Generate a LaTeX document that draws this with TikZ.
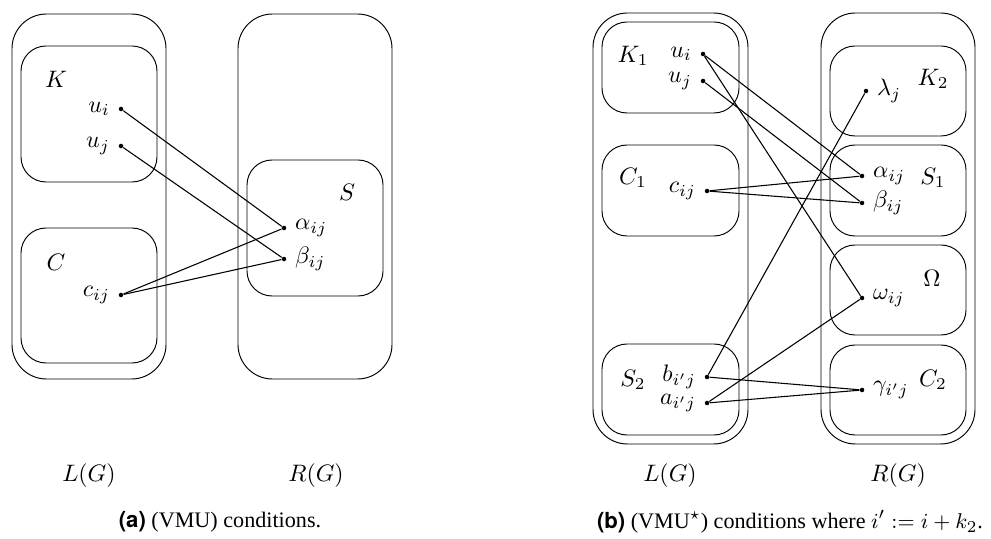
\documentclass[tikz,border=0pt]{standalone}
\usepackage[no-math]{fontspec}
\setmainfont{Liberation Serif}
\newfontfamily\capsans{TeX Gyre Heros}
\begin{document}
\begin{tikzpicture}[x=0.42pt,y=-0.42pt,
  outerbox/.style={draw, rounded corners=14.5pt},
  innerbox/.style={draw, rounded corners=10.5pt},
  vert/.style={circle, fill, inner sep=0pt, minimum size=1.9pt},
  captext/.style={font=\fontsize{9.3}{11}\selectfont},
  edge/.style={draw, line width=0.45pt}]
\useasboundingbox (0,0) rectangle (991,539);

% ---------- panel (a) ----------
\draw[outerbox] (12,14) rectangle (166,379);
\draw[outerbox] (238,14) rectangle (392,379);
\draw[innerbox] (21,46) rectangle (157,182);
\draw[innerbox] (21,228) rectangle (157,363);
\draw[innerbox] (247,160) rectangle (383,296);
\node (aK) at (56,79) {$K$};
\node (aC) at (56,262) {$C$};
\node (aS) at (347,192) {$S$};
\node[vert, label=left:$u_i$] (aui) at (121,109) {};
\node[vert, label=left:$u_j$] (auj) at (121,146) {};
\node[vert, label=left:$c_{ij}$] (ac) at (121,295) {};
\node[vert, label=right:$\alpha_{ij}$] (aal) at (284,228) {};
\node[vert, label=right:$\beta_{ij}$] (abe) at (284,259) {};
\draw[edge] (aui) -- (aal);
\draw[edge] (auj) -- (abe);
\draw[edge] (ac) -- (aal);
\draw[edge] (ac) -- (abe);
\node (aL) at (89,476) {$L(G)$};
\node (aR) at (316,476) {$R(G)$};
\node[captext] (capa) at (220,522) {{\capsans\bfseries (a)} (VMU) conditions.};

% ---------- panel (b) ----------
\draw[outerbox] (593,13) rectangle (748,444);
\draw[outerbox] (821,13) rectangle (975,444);
\draw[innerbox] (602,22) rectangle (739,113);
\draw[innerbox] (602,145) rectangle (739,236);
\draw[innerbox] (602,344) rectangle (739,435);
\draw[innerbox] (830,46) rectangle (966,136);
\draw[innerbox] (830,145) rectangle (966,236);
\draw[innerbox] (830,245) rectangle (966,335);
\draw[innerbox] (830,345) rectangle (966,435);
\node (bK1) at (633,56) {$K_1$};
\node (bC1) at (633,178) {$C_1$};
\node (bS2) at (633,380) {$S_2$};
\node (bK2) at (933,79) {$K_2$};
\node (bS1) at (933,178) {$S_1$};
\node (bOm) at (932,278) {$\Omega$};
\node (bC2) at (933,380) {$C_2$};
\node[vert, label=left:$u_i$] (bui) at (703,54) {};
\node[vert, label=left:$u_j$] (buj) at (703,81) {};
\node[vert, label=left:$c_{ij}$] (bc) at (707,191) {};
\node[vert, label=left:$b_{i'j}$] (bb) at (707,377) {};
\node[vert, label=left:$a_{i'j}$] (ba) at (707,403) {};
\node[vert, label=right:$\lambda_j$] (bla) at (866,91) {};
\node[vert, label=right:$\alpha_{ij}$] (bal) at (862,176) {};
\node[vert, label=right:$\beta_{ij}$] (bbe) at (862,203) {};
\node[vert, label=right:$\omega_{ij}$] (bom) at (862,298) {};
\node[vert, label=right:$\gamma_{i'j}$] (bga) at (862,390) {};
\draw[edge] (bui) -- (bal);
\draw[edge] (bui) -- (bom);
\draw[edge] (buj) -- (bbe);
\draw[edge] (bc) -- (bal);
\draw[edge] (bc) -- (bbe);
\draw[edge] (bb) -- (bla);
\draw[edge] (bb) -- (bga);
\draw[edge] (ba) -- (bom);
\draw[edge] (ba) -- (bga);
\node (bL) at (670,476) {$L(G)$};
\node (bR) at (898,476) {$R(G)$};
\node[captext] (capb) at (790,522) {{\capsans\bfseries (b)} (VMU$^\star$) conditions where $i' := i + k_2$.};
\end{tikzpicture}
\end{document}
